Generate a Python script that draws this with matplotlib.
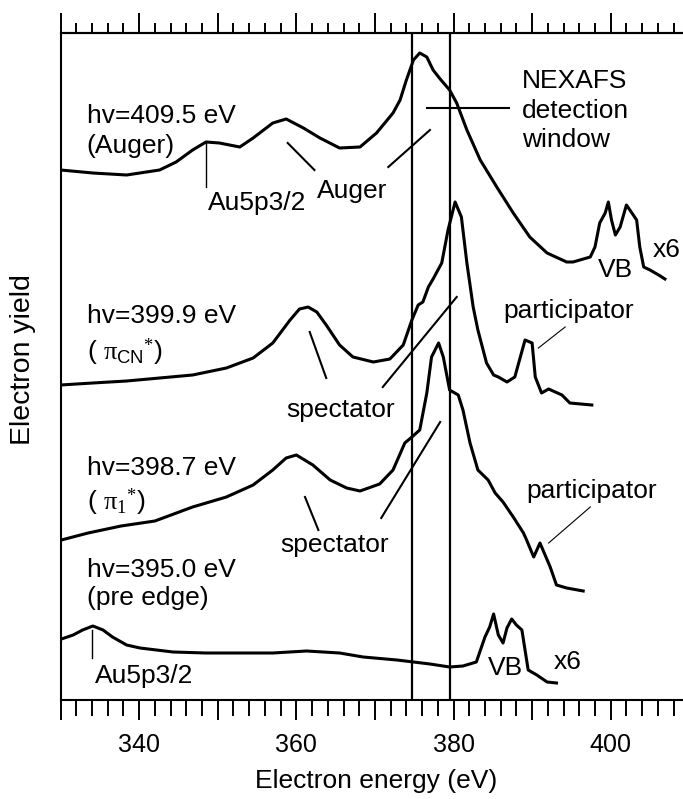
import matplotlib
matplotlib.use('Agg')
import matplotlib.pyplot as plt
from matplotlib.ticker import MultipleLocator, FuncFormatter

plt.rcParams['font.family'] = ['Liberation Sans', 'DejaVu Sans']
plt.rcParams['mathtext.fontset'] = 'custom'
plt.rcParams['mathtext.rm'] = 'Liberation Serif'
plt.rcParams['mathtext.it'] = 'Liberation Serif'
plt.rcParams['mathtext.sf'] = 'Liberation Sans'

# electron energy (eV) / yield (arb. units, spectra offset vertically)
# hv = 409.5 eV (Auger), VB part x6
e_auger = [330.0, 334.1, 338.4, 342.6, 344.7, 346.8, 348.5, 350.2, 352.8, 354.5,
           357.0, 358.7, 360.9, 363.0, 365.5, 368.1, 370.2, 372.3, 373.2, 374.0,
           374.9, 375.7, 376.6, 377.4, 378.3, 379.5, 380.4, 381.7, 383.4, 385.5,
           387.6, 389.7, 391.9, 394.4, 395.2, 397.4, 398.0, 398.6, 399.3, 399.7,
           400.1, 400.6, 401.2, 402.0, 402.7, 403.3, 403.7, 404.2, 405.0, 406.1, 406.9]
y_auger = [530, 527, 525, 530, 538, 550, 558, 557, 553, 562,
           577, 581, 572, 562, 552, 553, 567, 587, 600, 620,
           640, 647, 643, 630, 621, 610, 597, 570, 540, 513,
           487, 463, 447, 438, 438, 443, 453, 477, 487, 498,
           480, 465, 473, 495, 487, 480, 453, 433, 430, 425, 421]

# hv = 399.9 eV (pi_CN*)
e_cn = [330.0, 334.1, 338.4, 342.6, 346.8, 351.1, 354.5, 357.0, 359.2, 360.4,
        361.5, 362.6, 363.8, 365.5, 367.2, 369.8, 371.9, 373.6, 374.7, 375.5,
        376.1, 376.8, 377.4, 378.5, 379.3, 380.2, 381.0, 381.7, 382.1, 382.5,
        383.1, 384.2, 385.1, 385.7, 386.8, 387.8, 388.5, 389.1, 390.0, 390.4,
        391.2, 392.1, 393.8, 394.8, 397.6]
y_cn = [315, 317, 319, 322, 325, 332, 342, 357, 380, 391,
        393, 388, 375, 355, 343, 338, 341, 355, 380, 395,
        398, 413, 421, 437, 470, 498, 483, 437, 415, 393,
        370, 337, 325, 323, 318, 323, 343, 360, 357, 323,
        307, 311, 305, 297, 295]

# hv = 398.7 eV (pi_1*)
e_p1 = [330.1, 333.5, 337.7, 342.0, 346.8, 351.1, 354.5, 357.0, 358.7, 360.0,
        362.1, 364.3, 366.4, 368.1, 370.6, 372.3, 373.8, 374.7, 375.7, 376.6,
        377.2, 378.1, 378.7, 379.5, 380.6, 381.2, 382.1, 383.1, 384.4, 385.3,
        386.3, 387.6, 388.9, 389.3, 390.2, 391.0, 392.3, 393.1, 394.4, 396.5]
y_p1 = [160, 167, 174, 179, 193, 203, 215, 230, 242, 245,
        235, 220, 212, 209, 216, 230, 257, 263, 270, 307,
        343, 357, 343, 310, 305, 290, 257, 230, 220, 207,
        198, 183, 167, 160, 143, 157, 133, 115, 112, 109]

# hv = 395.0 eV (pre edge), VB part x6
e_pre = [330.1, 331.6, 332.8, 334.1, 335.4, 336.6, 338.4, 340.1, 344.3, 348.5,
         352.8, 357.0, 361.3, 365.5, 368.5, 372.8, 377.0, 379.5, 381.2, 382.9,
         384.0, 384.6, 385.1, 385.7, 386.3, 386.8, 387.4, 388.0, 388.7, 389.1,
         389.5, 390.6, 391.9, 393.1]
y_pre = [61, 65, 70, 74, 70, 63, 55, 52, 48, 47,
         47, 47, 49, 47, 43, 40, 36, 33, 34, 38,
         63, 73, 86, 65, 57, 72, 81, 75, 70, 50,
         30, 25, 18, 17]

window = [374.7, 379.6]

fig = plt.figure(figsize=(6.83, 7.99), dpi=100)
ax = fig.add_axes([60.6 / 683, 99 / 799, (683 - 60.6) / 683, 667 / 799])

for e, y in [(e_auger, y_auger), (e_cn, y_cn), (e_p1, y_p1), (e_pre, y_pre)]:
    ax.plot(e, y, color='black', lw=2.2, solid_joinstyle='round')

for w in window:
    ax.axvline(w, color='black', lw=1.6)

ax.set_xlim(330, 409.2)
ax.set_ylim(0, 667)

fs = 19
# labels of each spectrum
ax.text(333.3, 577, 'hv=409.5 eV', fontsize=fs)
ax.text(333.3, 547, '(Auger)', fontsize=fs)
ax.text(333.3, 377, 'hv=399.9 eV', fontsize=fs)
ax.text(333.3, 340, r'( $\pi_{\mathsf{CN}}{}^{*}$)', fontsize=fs)
ax.text(333.3, 225, 'hv=398.7 eV', fontsize=fs)
ax.text(333.3, 190, r'( $\pi_{1}{}^{*}$)', fontsize=fs)
ax.text(333.3, 123, 'hv=395.0 eV', fontsize=fs)
ax.text(333.3, 95, '(pre edge)', fontsize=fs)

# peak annotations
ax.text(348.8, 490, 'Au5p3/2', fontsize=fs)
ax.plot([348.5, 348.5], [557, 513], color='black', lw=1)
ax.text(334.4, 17, 'Au5p3/2', fontsize=fs)
ax.plot([334.0, 334.0], [70, 42], color='black', lw=1)

ax.text(362.6, 502, 'Auger', fontsize=fs)
ax.plot([358.9, 362.3], [557, 530], color='black', lw=1.5)
ax.plot([371.7, 377.0], [533, 570], color='black', lw=1.5)

ax.text(388.7, 612, 'NEXAFS', fontsize=fs)
ax.text(388.7, 582, 'detection', fontsize=fs)
ax.text(388.7, 553, 'window', fontsize=fs)
ax.plot([376.6, 387.0], [592, 592], color='black', lw=1.5)

ax.text(398.4, 423, 'VB', fontsize=fs)
ax.text(405.4, 443, 'x6', fontsize=fs)
ax.text(384.4, 25, 'VB', fontsize=fs)
ax.text(392.7, 31, 'x6', fontsize=fs)

ax.text(358.7, 283, 'spectator', fontsize=fs)
ax.plot([361.7, 363.8], [368, 322], color='black', lw=1.5)
ax.plot([371.0, 380.4], [313, 403], color='black', lw=1.5)
ax.text(357.9, 148, 'spectator', fontsize=fs)
ax.plot([361.1, 362.8], [203, 170], color='black', lw=1.5)
ax.plot([370.8, 378.3], [182, 278], color='black', lw=1.5)

ax.text(386.3, 382, 'participator', fontsize=fs)
ax.plot([394.2, 390.8], [373, 352], color='black', lw=0.8)
ax.text(389.3, 202, 'participator', fontsize=fs)
ax.plot([397.4, 392.1], [193, 157], color='black', lw=0.8)

# axes styling
for s in ['left', 'bottom', 'top']:
    ax.spines[s].set_linewidth(1.5)
ax.spines['right'].set_visible(False)
ax.set_yticks([])

ax.xaxis.set_major_locator(MultipleLocator(10))
ax.xaxis.set_minor_locator(MultipleLocator(2))
ax.xaxis.set_major_formatter(FuncFormatter(lambda v, p: '%d' % v if int(round(v)) % 20 == 0 and v > 331 else ''))
ax.tick_params(axis='x', which='major', direction='out', length=14.4, width=1.4, labelsize=18, pad=9)
ax.tick_params(axis='x', which='minor', direction='out', length=11.3, width=1.4)

top = ax.secondary_xaxis('top')
top.xaxis.set_major_locator(MultipleLocator(10))
top.xaxis.set_minor_locator(MultipleLocator(2))
top.tick_params(axis='x', which='major', direction='out', length=14.4, width=1.4, labeltop=False)
top.tick_params(axis='x', which='minor', direction='out', length=7.2, width=1.4)
top.spines['top'].set_linewidth(1.5)

ax.set_xlabel('Electron energy (eV)', fontsize=19)
ax.xaxis.set_label_coords(0.507, -0.103)
ax.set_ylabel('Electron yield', fontsize=20.5)
ax.yaxis.set_label_coords(-0.04, 0.51)

fig.savefig('out.png', dpi=100)
